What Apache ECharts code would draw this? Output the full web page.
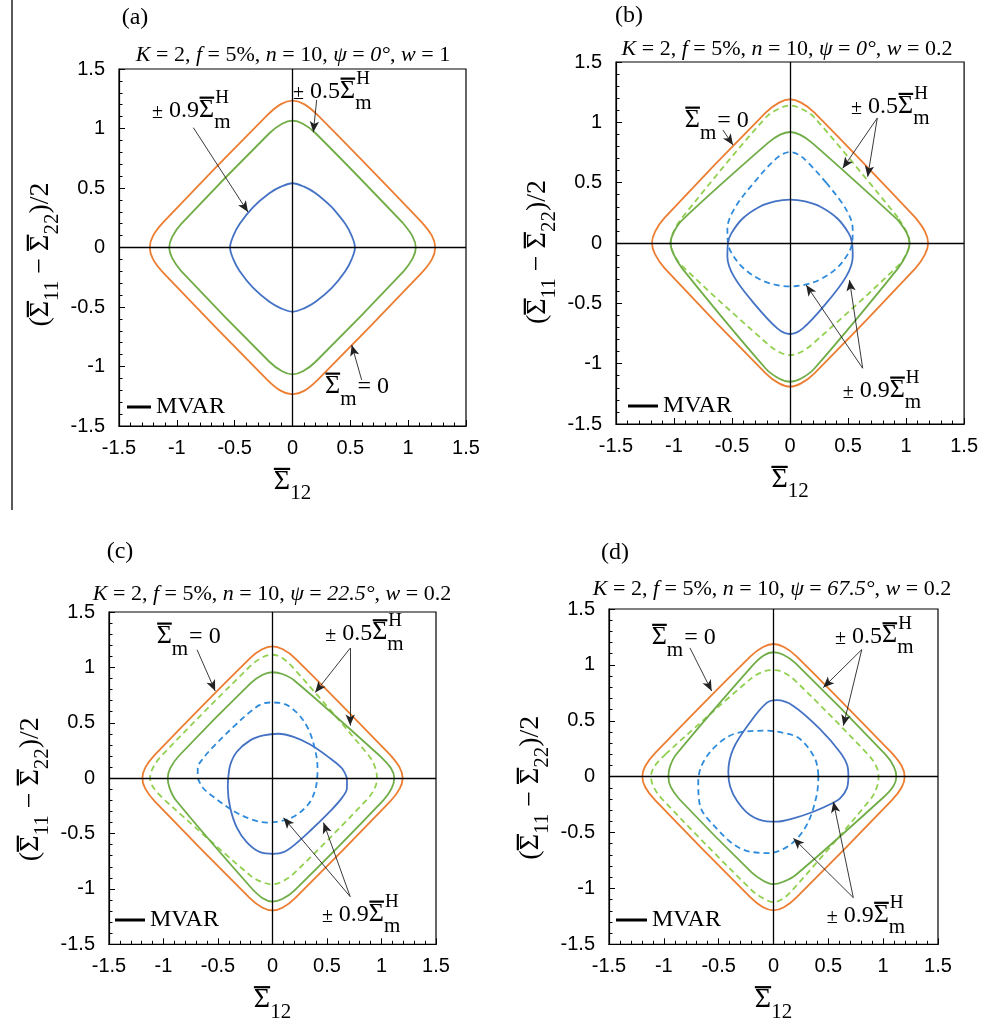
<!DOCTYPE html>
<html><head><meta charset="utf-8">
<script src="https://cdn.jsdelivr.net/npm/echarts@6/dist/echarts.min.js"></script>
<style>html,body{margin:0;padding:0;background:#fff}#c{width:981px;height:1027px}</style>
</head><body><div id="c"></div>
<script>
// ---------------- data ----------------
const TICKS = [-1.5, -1, -0.5, 0, 0.5, 1, 1.5];
const PANEL_LABELS = ['(a)', '(b)', '(c)', '(d)'];
const SUBTITLES = [
  '{i|K} = 2, {i|f} = 5%, {i|n} = 10, {i|ψ} = {i|0°}, {i|w} = 1',
  '{i|K} = 2, {i|f} = 5%, {i|n} = 10, {i|ψ} = {i|0°}, {i|w} = 0.2',
  '{i|K} = 2, {i|f} = 5%, {i|n} = 10, {i|ψ} = {i|22.5°}, {i|w} = 0.2',
  '{i|K} = 2, {i|f} = 5%, {i|n} = 10, {i|ψ} = {i|67.5°}, {i|w} = 0.2'
];
const LEGEND_NAME = 'MVAR';

// panel (a)  psi=0, w=1
const A_orange = [[1.11,0.22],[0.22,1.11],[0.1,1.205],[0,1.234],[-0.1,1.205],[-0.22,1.11],[-1.11,0.22],[-1.205,0.1],[-1.234,0],[-1.205,-0.1],[-1.11,-0.22],[-0.22,-1.11],[-0.1,-1.205],[0,-1.234],[0.1,-1.205],[0.22,-1.11],[1.11,-0.22],[1.205,-0.1],[1.234,0],[1.205,0.1],[1.11,0.22]];
const A_green = [[0.96,0.2],[0.2,0.96],[0.09,1.04],[0,1.066],[-0.09,1.04],[-0.2,0.96],[-0.96,0.2],[-1.04,0.09],[-1.066,0],[-1.04,-0.09],[-0.96,-0.2],[-0.2,-0.96],[-0.09,-1.04],[0,-1.066],[0.09,-1.04],[0.2,-0.96],[0.96,-0.2],[1.04,-0.09],[1.066,0],[1.04,0.09],[0.96,0.2]];
const A_blue = [[0.34,0.34],[0.2,0.456],[0.1,0.511],[0,0.54],[-0.1,0.511],[-0.2,0.456],[-0.34,0.34],[-0.456,0.2],[-0.511,0.1],[-0.54,0],[-0.511,-0.1],[-0.456,-0.2],[-0.34,-0.34],[-0.2,-0.456],[-0.1,-0.511],[0,-0.54],[0.1,-0.511],[0.2,-0.456],[0.34,-0.34],[0.456,-0.2],[0.511,-0.1],[0.54,0],[0.511,0.1],[0.456,0.2],[0.34,0.34]];
const A_arrows = [[[-0.857,1.007],[-0.385,0.298]],[[0.209,1.24],[0.18,0.968]],[[0.598,-1.113],[0.512,-0.819]]];
const A_labels = [['H','± 0.9',[-1.214,1.149]],['H','± 0.5',[0.005,1.309]],['Z','= 0',[0.281,-1.17]]];

// panel (b)  psi=0, w=0.2
const B_orange = [[1.08,0.21],[0.21,1.08],[0.095,1.163],[0,1.19],[-0.095,1.163],[-0.21,1.08],[-1.08,0.21],[-1.163,0.095],[-1.19,0],[-1.163,-0.095],[-1.08,-0.21],[-0.21,-1.08],[-0.095,-1.163],[0,-1.19],[0.095,-1.163],[0.21,-1.08],[1.08,-0.21],[1.163,-0.095],[1.19,0],[1.163,0.095],[1.08,0.21]];
const B_green = [[0.93,0.19],[0.19,0.83],[0.085,0.898],[0,0.92],[-0.085,0.898],[-0.19,0.83],[-0.93,0.19],[-1.005,0.085],[-1.03,0],[-1.005,-0.09],[-0.93,-0.21],[-0.21,-1.04],[-0.095,-1.123],[0,-1.15],[0.095,-1.123],[0.21,-1.04],[0.93,-0.21],[1.005,-0.09],[1.03,0],[1.005,0.085],[0.93,0.19]];
const B_greenD = [[0.93,0.21],[0.21,1.04],[0.095,1.113],[0,1.14],[-0.095,1.113],[-0.21,1.04],[-0.93,0.21],[-1.005,0.09],[-1.03,0],[-1.005,-0.085],[-0.93,-0.19],[-0.19,-0.84],[-0.085,-0.908],[0,-0.93],[0.085,-0.908],[0.19,-0.84],[0.93,-0.19],[1.005,-0.085],[1.03,0],[1.005,0.09],[0.93,0.21]];
const B_blue = [[0.311,-0.5],[0.483,-0.279],[0.54,-0.113],[0.535,0],[0.506,0.08],[0.406,0.205],[0.262,0.301],[0.13,0.345],[0,0.36],[-0.13,0.345],[-0.262,0.301],[-0.406,0.205],[-0.506,0.08],[-0.535,0],[-0.54,-0.113],[-0.483,-0.279],[-0.311,-0.5],[-0.11,-0.707],[0,-0.754],[0.11,-0.707],[0.311,-0.5]];
const B_blueD = [[0.311,0.5],[0.483,0.279],[0.54,0.113],[0.535,0],[0.506,-0.08],[0.406,-0.205],[0.262,-0.301],[0.13,-0.345],[0,-0.36],[-0.13,-0.345],[-0.262,-0.301],[-0.406,-0.205],[-0.506,-0.08],[-0.535,0],[-0.54,0.113],[-0.483,0.279],[-0.311,0.5],[-0.11,0.707],[0,0.754],[0.11,0.707],[0.311,0.5]];
const B_arrows = [[[-0.578,0.936],[-0.492,0.812]],[[0.752,1.036],[0.454,0.619]],[[0.752,1.036],[0.669,0.549]],[[0.626,-1.038],[0.139,-0.348]],[[0.626,-1.038],[0.512,-0.307]]];
const B_labels = [['Z','= 0',[-0.907,1.013]],['H','± 0.5',[0.526,1.127]],['H','± 0.9',[0.454,-1.224]]];

// panel (c)  psi=22.5, w=0.2
const C_orange = [[1.08,0.21],[0.21,1.08],[0.095,1.163],[0,1.19],[-0.095,1.163],[-0.21,1.08],[-1.08,0.21],[-1.167,0.095],[-1.194,0],[-1.167,-0.095],[-1.08,-0.21],[-0.21,-1.08],[-0.095,-1.167],[0,-1.194],[0.095,-1.167],[0.21,-1.08],[1.08,-0.21],[1.167,-0.095],[1.194,0],[1.167,0.095],[1.08,0.21]];
const C_green = [[0.986,0.2],[0.2,0.882],[0.09,0.94],[0,0.956],[-0.09,0.933],[-0.2,0.857],[-0.86,0.2],[-0.938,0.09],[-0.961,0],[-0.944,-0.09],[-0.886,-0.2],[-0.2,-0.985],[-0.09,-1.084],[0,-1.114],[0.09,-1.091],[0.2,-1.015],[1.016,-0.2],[1.094,-0.09],[1.117,0],[1.087,0.09],[0.986,0.2]];
const C_greenD = [[-0.986,-0.2],[-0.2,-0.882],[-0.09,-0.94],[0,-0.959],[0.09,-0.933],[0.2,-0.857],[0.86,-0.2],[0.938,-0.09],[0.958,0],[0.944,0.09],[0.886,0.2],[0.2,0.985],[0.09,1.084],[0,1.114],[-0.09,1.091],[-0.2,1.015],[-1.02,0.2],[-1.098,0.09],[-1.123,0],[-1.09,-0.09],[-0.986,-0.2]];
const C_blue = [[0.683,0],[0.637,0.089],[0.53,0.178],[0.346,0.303],[0.193,0.372],[0.055,0.401],[-0.083,0.386],[-0.205,0.341],[-0.327,0.238],[-0.388,0.119],[-0.406,0],[-0.41,-0.089],[-0.388,-0.267],[-0.327,-0.446],[-0.235,-0.579],[-0.113,-0.668],[0.009,-0.683],[0.101,-0.668],[0.193,-0.609],[0.346,-0.475],[0.53,-0.297],[0.637,-0.178],[0.683,-0.089],[0.683,0]];
const C_blueD = [[-0.686,0],[-0.637,-0.089],[-0.53,-0.178],[-0.346,-0.303],[-0.193,-0.372],[-0.055,-0.401],[0.083,-0.386],[0.205,-0.341],[0.327,-0.238],[0.388,-0.119],[0.41,0],[0.413,0.089],[0.388,0.267],[0.327,0.446],[0.235,0.579],[0.113,0.668],[-0.009,0.683],[-0.101,0.668],[-0.193,0.609],[-0.346,0.475],[-0.53,0.297],[-0.637,0.178],[-0.686,0.089],[-0.686,0]];
const C_arrows = [[[-0.692,1.159],[-0.526,0.787]],[[0.713,1.174],[0.392,0.773]],[[0.713,1.174],[0.713,0.475]],[[0.713,-1.07],[0.101,-0.357]],[[0.713,-1.07],[0.468,-0.401]]];
const C_labels = [['Z','= 0',[-1.063,1.277]],['H','± 0.5',[0.484,1.307]],['H','± 0.9',[0.453,-1.233]]];

// panel (d)  psi=67.5, w=0.2
const D_orange = [[1.08,0.21],[0.21,1.077],[0.095,1.16],[0,1.187],[-0.095,1.16],[-0.21,1.077],[-1.08,0.21],[-1.169,0.095],[-1.196,0],[-1.169,-0.095],[-1.08,-0.21],[-0.21,-1.08],[-0.095,-1.169],[0,-1.196],[0.095,-1.169],[0.21,-1.08],[1.08,-0.21],[1.169,-0.095],[1.196,0],[1.169,0.095],[1.08,0.21]];
const D_green = [[0.986,-0.2],[0.2,-0.882],[0.09,-0.94],[0,-0.962],[-0.09,-0.933],[-0.2,-0.857],[-0.86,-0.2],[-0.938,-0.09],[-0.958,0],[-0.944,0.09],[-0.886,0.2],[-0.2,0.985],[-0.09,1.084],[0,1.113],[0.09,1.091],[0.2,1.015],[1.02,0.2],[1.097,0.09],[1.12,0],[1.09,-0.09],[0.986,-0.2]];
const D_greenD = [[-0.986,0.2],[-0.2,0.882],[-0.09,0.94],[0,0.953],[0.09,0.933],[0.2,0.857],[0.86,0.2],[0.938,0.09],[0.958,0],[0.944,-0.09],[0.886,-0.2],[0.2,-0.985],[0.09,-1.09],[0,-1.122],[-0.09,-1.091],[-0.2,-1.015],[-1.016,-0.2],[-1.094,-0.09],[-1.117,0],[-1.087,0.09],[-0.986,0.2]];
const D_blue = [[0.683,0],[0.673,0.1],[0.607,0.219],[0.424,0.426],[0.181,0.633],[0.029,0.684],[-0.062,0.66],[-0.214,0.486],[-0.367,0.249],[-0.412,0.042],[-0.395,-0.09],[-0.33,-0.22],[-0.214,-0.344],[-0.062,-0.4],[0.029,-0.402],[0.181,-0.373],[0.363,-0.314],[0.531,-0.24],[0.607,-0.195],[0.668,-0.107],[0.683,0]];
const D_blueD = [[0.409,0.012],[0.394,-0.166],[0.303,-0.432],[0.151,-0.61],[-0.047,-0.684],[-0.306,-0.64],[-0.549,-0.432],[-0.671,-0.255],[-0.686,-0.047],[-0.64,0.13],[-0.488,0.308],[-0.306,0.397],[-0.062,0.411],[0.1,0.39],[0.242,0.337],[0.379,0.16],[0.409,0.012]];
const D_arrows = [[[-0.762,1.152],[-0.564,0.766]],[[0.805,1.137],[0.454,0.797]],[[0.805,1.137],[0.637,0.456]],[[0.728,-1.083],[0.181,-0.551]],[[0.728,-1.083],[0.546,-0.225]]];
const D_labels = [['Z','= 0',[-1.111,1.241]],['H','± 0.5',[0.561,1.255]],['H','± 0.9',[0.485,-1.246]]];

// ---------------- styling / layout ----------------
const SERIF = '"Liberation Serif", "Times New Roman", serif';
const SANS = '"Liberation Sans", Arial, sans-serif';
const STY = {
  orange: {color: '#ED7D31', type: 'solid'},
  green:  {color: '#70AD47', type: 'solid'},
  greenD: {color: '#92D050', type: [6, 4]},
  blue:   {color: '#4472C4', type: 'solid'},
  blueD:  {color: '#2E8BDB', type: [6, 4]}
};
const PANELS = [
  {grid: {left: 119, top: 69, width: 347, height: 357}, curves: [[A_orange,'orange'],[A_green,'green'],[A_blue,'blue']], arrows: A_arrows, labels: A_labels,
   title: {x: 135, y: 6}, sub: {x: 293, y: 44}, legend: {x: 127, y: 395, w: 24}, yGap: 55, yShift: 7},
  {grid: {left: 616, top: 62, width: 349, height: 362}, curves: [[B_orange,'orange'],[B_greenD,'greenD'],[B_green,'green'],[B_blueD,'blueD'],[B_blue,'blue']], arrows: B_arrows, labels: B_labels,
   title: {x: 629, y: 4}, sub: {x: 787, y: 38}, legend: {x: 628, y: 394, w: 30}, yGap: 53, yShift: 9},
  {grid: {left: 109, top: 612, width: 327, height: 336}, curves: [[C_orange,'orange'],[C_greenD,'greenD'],[C_green,'green'],[C_blueD,'blueD'],[C_blue,'blue']], arrows: C_arrows, labels: C_labels,
   title: {x: 120, y: 540}, sub: {x: 272, y: 583}, legend: {x: 115, y: 908, w: 30}, yGap: 53, yShift: 11},
  {grid: {left: 609, top: 609, width: 329, height: 338}, curves: [[D_orange,'orange'],[D_greenD,'greenD'],[D_green,'green'],[D_blueD,'blueD'],[D_blue,'blue']], arrows: D_arrows, labels: D_labels,
   title: {x: 615, y: 541}, sub: {x: 772, y: 578}, legend: {x: 616, y: 908, w: 31}, yGap: 49, yShift: 11}
];

// ---- rich-text helper: stacked lines so that the bar over Σ, sub- and superscripts sit where they should ----
const cv = document.createElement('canvas').getContext('2d');
function tw(t, size) { cv.font = size + 'px ' + SERIF; return cv.measureText(t).width; }
function richBlock(lines) {
  const rich = {}; let n = 0; const out = [];
  lines.forEach(L => {
    let s = '';
    L.items.forEach(it => {
      const key = 'k' + (n++);
      if (it.gap != null) {
        rich[key] = {width: it.gap, height: 1, lineHeight: L.h, fontSize: 8, verticalAlign: 'bottom'};
        s += '{' + key + '| }';
      } else if (it.bar != null) {
        rich[key] = {width: it.bar, height: 2.2, lineHeight: L.h, fontSize: 8, verticalAlign: 'bottom', backgroundColor: '#000'};
        s += '{' + key + '| }';
      } else {
        rich[key] = {fontFamily: SERIF, fontSize: it.size, lineHeight: L.h, verticalAlign: 'bottom', color: '#000', fill: '#000'};
        s += '{' + key + '|' + it.t + '}';
      }
    });
    out.push(s);
  });
  return {text: out.join('\n'), rich: rich};
}
// x axis title  Σ̄12
const wS = tw('Σ', 28), w12 = tw('12', 21);
const xName = richBlock([
  {h: 3, items: [{bar: wS}, {gap: w12}]},
  {h: 25.6, items: [{t: 'Σ', size: 28}, {gap: w12}]},
  {h: 8.6, items: [{gap: wS}, {t: '12', size: 21}]}
]);
// y axis title  (Σ̄11 − Σ̄22)/2 ; a trailing gap on every line moves the whole title down the axis
const wP = tw('(', 28), w11 = tw('11', 21), wM = tw(' − ', 28), w22 = tw('22', 21), wE = tw(')/2', 28);
function makeYName(shift) {
  const t = 2 * shift;
  return richBlock([
    {h: 3, items: [{gap: wP}, {bar: wS}, {gap: w11 + wM}, {bar: wS}, {gap: w22 + wE + t}]},
    {h: 25.6, items: [{t: '(', size: 28}, {t: 'Σ', size: 28}, {gap: w11}, {t: ' − ', size: 28}, {t: 'Σ', size: 28}, {gap: w22}, {t: ')/2', size: 28}, {gap: t}]},
    {h: 8.6, items: [{gap: wP + wS}, {t: '11', size: 21}, {gap: wM + wS}, {t: '22', size: 21}, {gap: wE + t}]}
  ]);
}

const chart = echarts.init(document.getElementById('c'), null, {renderer: 'canvas'});
const grids = [], xAxes = [], yAxes = [], series = [], titles = [], legends = [];
PANELS.forEach((p, i) => {
  grids.push(Object.assign({show: true, borderColor: '#000', borderWidth: 1.2, backgroundColor: 'transparent'}, p.grid));
  const common = {
    type: 'value', gridIndex: i, min: TICKS[0], max: TICKS[TICKS.length - 1], interval: 0.5,
    splitLine: {show: false},
    axisLine: {show: true, onZero: false, lineStyle: {color: '#000', width: 1.2}},
    axisTick: {show: true, inside: true, length: 6, lineStyle: {color: '#000', width: 1}},
    minorTick: {show: true, splitNumber: 5, length: 3.5, lineStyle: {color: '#000', width: 1}},
    axisLabel: {fontFamily: SANS, fontSize: 20, color: '#000'}
  };
  const yName = makeYName(p.yShift);
  xAxes.push(Object.assign({}, common, {
    position: 'bottom',
    axisLabel: Object.assign({}, common.axisLabel, {margin: 12}),
    name: xName.text, nameLocation: 'middle', nameGap: 41,
    nameTextStyle: {fontFamily: SERIF, color: '#000', rich: xName.rich}
  }));
  yAxes.push(Object.assign({}, common, {
    position: 'left',
    axisLabel: Object.assign({}, common.axisLabel, {margin: 14}),
    name: yName.text, nameLocation: 'middle', nameRotate: 90, nameGap: p.yGap,
    nameTextStyle: {fontFamily: SERIF, color: '#000', rich: yName.rich}
  }));
  p.curves.forEach(([data, key], j) => {
    const s = {
      type: 'line', xAxisIndex: i, yAxisIndex: i, data: data, smooth: 0.35,
      showSymbol: false, symbol: 'none', silent: true, animation: false, z: 3,
      lineStyle: {color: STY[key].color, width: 1.8, type: STY[key].type},
      itemStyle: {color: STY[key].color}
    };
    if (j === 0) {
      s.markLine = {
        silent: true, animation: false, symbol: 'none', symbolSize: 10, label: {show: false},
        lineStyle: {color: '#000', width: 1.3, type: 'solid'},
        emphasis: {disabled: true},
        data: [{xAxis: 0}, {yAxis: 0}].concat(p.arrows.map(([a, b]) => [
          {coord: a, symbol: 'none', lineStyle: {color: '#222', width: 0.9, type: 'solid'}},
          {coord: b, symbol: 'arrow', symbolSize: [7, 11], lineStyle: {color: '#222', width: 0.9, type: 'solid'}}
        ]))
      };
    }
    series.push(s);
  });
  titles.push({text: PANEL_LABELS[i], left: p.title.x, top: p.title.y, textAlign: 'center', padding: 0,
    textStyle: {fontFamily: SERIF, fontSize: 24, fontWeight: 'normal', color: '#000'}});
  titles.push({text: SUBTITLES[i], left: p.sub.x, top: p.sub.y, textAlign: 'center', padding: 0,
    textStyle: {fontFamily: SERIF, fontSize: 22, fontWeight: 'normal', color: '#000',
      rich: {i: {fontFamily: SERIF, fontSize: 22, fontStyle: 'italic', color: '#000'}}}});
  legends.push({data: [LEGEND_NAME], left: p.legend.x, top: p.legend.y, icon: 'rect', itemWidth: p.legend.w, itemHeight: 3,
    padding: 0, selectedMode: false, textStyle: {fontFamily: SERIF, fontSize: 24, color: '#000'}});
});
series.push({type: 'line', name: LEGEND_NAME, xAxisIndex: 0, yAxisIndex: 0, data: [], color: '#000',
  lineStyle: {color: '#000'}, itemStyle: {color: '#000'}, showSymbol: false});

chart.setOption({
  animation: false,
  backgroundColor: '#fff',
  grid: grids, xAxis: xAxes, yAxis: yAxes, series: series, title: titles, legend: legends
});

// ------------- annotation texts (anchored in data coords) -------------
const graphics = [{type: 'line', shape: {x1: 12, y1: 0, x2: 12, y2: 510}, style: {stroke: '#000', lineWidth: 1.3}, silent: true}];
PANELS.forEach((p, i) => {
  p.labels.forEach(([kind, txt, at]) => {
    const px = chart.convertToPixel({gridIndex: i}, at);
    let blk, dy;
    const wSig = tw('Σ', 26);
    if (kind === 'H') {
      const num = txt.slice(1);
      const w0 = tw('±', 20) + tw(num, 24);
      blk = richBlock([
        {h: 10, items: [{gap: w0 + 0.5}, {bar: wSig - 0.5}]},
        {h: 9, items: [{gap: w0 + wSig + 1}, {t: 'H', size: 19}]},
        {h: 15, items: [{t: '±', size: 20}, {t: num, size: 24}, {t: 'Σ', size: 26}]},
        {h: 10, items: [{gap: w0 + wSig}, {t: 'm', size: 21}]}
      ]);
      dy = 22;
    } else {
      blk = richBlock([
        {h: 3, items: [{gap: 0.5}, {bar: wSig - 0.5}]},
        {h: 24, items: [{t: 'Σ', size: 26}, {gap: tw('m', 21) + 1}, {t: txt, size: 24}]},
        {h: 11, items: [{gap: wSig}, {t: 'm', size: 21}]}
      ]);
      dy = 15;
    }
    graphics.push({type: 'text', x: px[0], y: px[1] - dy, silent: true, z: 20,
      style: {text: blk.text, rich: blk.rich, fontFamily: SERIF, fontSize: 22, fill: '#000', align: 'left', verticalAlign: 'top'}});
  });
});
chart.setOption({graphic: graphics});
</script>
</body></html>
